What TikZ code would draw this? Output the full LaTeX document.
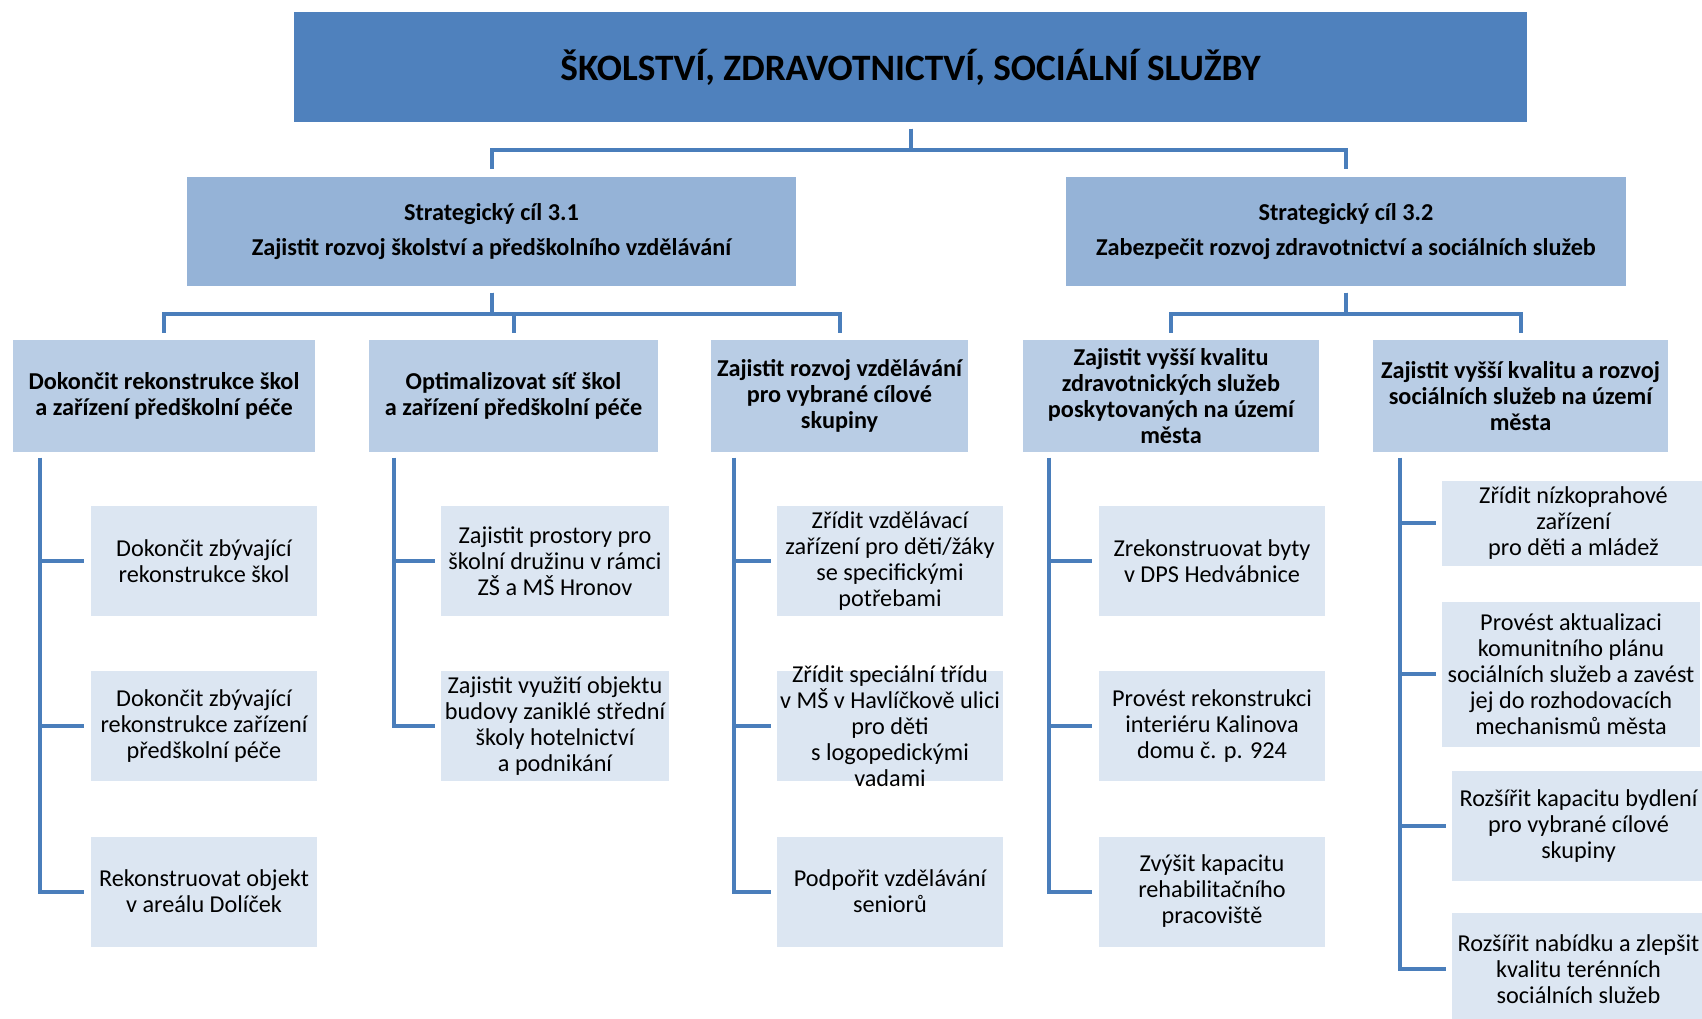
\documentclass[tikz,border=0pt]{standalone}
\usepackage{fontspec}
\setmainfont{Carlito}
\usetikzlibrary{calc}
\definecolor{titleblue}{HTML}{4F81BD}
\definecolor{goalblue}{HTML}{95B3D7}
\definecolor{aimblue}{HTML}{B9CDE5}
\definecolor{taskblue}{HTML}{DCE6F2}
\definecolor{lineblue}{HTML}{4A7EBB}
\tikzset{
  titlebox/.style= {fill=titleblue, inner sep=0, align=center,
    font=\bfseries\fontsize{10.6}{12}\selectfont},
  goal/.style= {fill=goalblue, inner sep=0, align=center, minimum height=10.9mm,
    font=\bfseries\fontsize{6.9}{10.2}\selectfont},
  aim/.style= {fill=aimblue, inner sep=0, align=center, minimum height=11.2mm,
    font=\bfseries\fontsize{6.9}{7.4}\selectfont},
  task/.style= {fill=taskblue, inner sep=0, align=center, minimum height=11mm,
    minimum width=22.6mm, font=\fontsize{6.9}{7.4}\selectfont},
  conn/.style= {draw=lineblue, line width=0.4mm},
}

\begin{document}
\begin{tikzpicture}[x=0.1mm, y=-0.1mm]
  \useasboundingbox (0,0) rectangle (1702,1019);
  % top and goals
  \node [titlebox, minimum width=123.3mm, minimum height=11mm] (top) at (910.5,67)
    {ŠKOLSTVÍ, ZDRAVOTNICTVÍ, SOCIÁLNÍ SLUŽBY};
  \node [goal, minimum width=60.9mm] (goal1) at (491.5,231.5)
    {Strategický cíl 3.1\\Zajistit rozvoj školství a předškolního vzdělávání};
  \node [goal, minimum width=56mm] (goal2) at (1346,231.5)
    {Strategický cíl 3.2\\Zabezpečit rozvoj zdravotnictví a sociálních služeb};

  % aims
  \node [aim, minimum width=30.2mm] (aimA) at (164,396)
    {Dokončit rekonstrukce škol\\a zařízení předškolní péče};
  \node [aim, minimum width=28.9mm] (aimB) at (513.5,396)
    {Optimalizovat síť škol\\a zařízení předškolní péče};
  \node [aim, minimum width=25.7mm] (aimC) at (839.5,396)
    {Zajistit rozvoj vzdělávání\\pro vybrané cílové\\skupiny};
  \node [aim, minimum width=29.6mm] (aimD) at (1171,396)
    {Zajistit vyšší kvalitu\\zdravotnických služeb\\poskytovaných na území\\města};
  \node [aim, minimum width=29.5mm] (aimE) at (1520.5,396)
    {Zajistit vyšší kvalitu a rozvoj\\sociálních služeb na území\\města};

  % tasks
  \node [task] (taskA1) at (204,561.5) {Dokončit zbývající\\rekonstrukce škol};
  \node [task] (taskA2) at (204,726.5) {Dokončit zbývající\\rekonstrukce zařízení\\předškolní péče};
  \node [task] (taskA3) at (204,891.5) {Rekonstruovat objekt\\v areálu Dolíček};
  \node [task, minimum width=22.8mm] (taskB1) at (555,561.5)
    {Zajistit prostory pro\\školní družinu v rámci\\ZŠ a MŠ Hronov};
  \node [task, minimum width=22.8mm] (taskB2) at (555,726.5)
    {Zajistit využití objektu\\budovy zaniklé střední\\školy hotelnictví\\a podnikání};
  \node [task] (taskC1) at (890,561.5)
    {Zřídit vzdělávací\\zařízení pro děti/žáky\\se specifickými\\potřebami};
  \node [task, inner ysep=-1mm] (taskC2) at (890,726.5)
    {Zřídit speciální třídu\\v MŠ v Havlíčkově ulici\\pro děti\\s logopedickými\\vadami};
  \node [task] (taskC3) at (890,891.5) {Podpořit vzdělávání\\seniorů};
  \node [task] (taskD1) at (1212,561.5) {Zrekonstruovat byty\\v DPS Hedvábnice};
  \node [task] (taskD2) at (1212,726.5) {Provést rekonstrukci\\interiéru Kalinova\\domu č. p. 924};
  \node [task] (taskD3) at (1212,891.5) {Zvýšit kapacitu\\rehabilitačního\\pracoviště};
  \node [task, minimum width=26.3mm, minimum height=8.5mm] (taskE1) at (1573.5,523.5)
    {Zřídit nízkoprahové\\zařízení\\pro děti a mládež};
  \node [task, minimum width=25.8mm, minimum height=14.5mm] (taskE2) at (1571,674.5)
    {Provést aktualizaci\\komunitního plánu\\sociálních služeb a zavést\\jej do rozhodovacích\\mechanismů města};
  \node [task, minimum width=25.3mm] (taskE3) at (1578.5,826)
    {Rozšířit kapacitu bydlení\\pro vybrané cílové\\skupiny};
  \node [task, minimum width=25.3mm, minimum height=11.2mm] (taskE4) at (1578.5,969)
    {Rozšířit nabídku a zlepšit\\kvalitu terénních\\sociálních služeb};

  % connectors between levels
  \draw [conn, shorten <=0.6mm, shorten >=0.7mm] (top.south) -- ++(0,27) -| (goal1.north);
  \draw [conn, shorten <=0.6mm, shorten >=0.7mm] (top.south) -- ++(0,27) -| (goal2.north);
  \draw [conn, shorten <=0.6mm, shorten >=0.6mm] (goal1.south) -- ++(0,27) -| (aimA.north);
  \draw [conn, shorten <=0.6mm, shorten >=0.6mm] (goal1.south) -- ++(0,27) -| (aimB.north);
  \draw [conn, shorten <=0.6mm, shorten >=0.6mm] (goal1.south) -- ++(0,27) -| (aimC.north);
  \draw [conn, shorten <=0.6mm, shorten >=0.6mm] (goal2.south) -- ++(0,27) -| (aimD.north);
  \draw [conn, shorten <=0.6mm, shorten >=0.6mm] (goal2.south) -- ++(0,27) -| (aimE.north);

  % trunks to tasks
  \coordinate (trunkA) at ($(aimA.south west)+(28,5)$);
  \coordinate (trunkB) at ($(aimB.south west)+(26,5)$);
  \coordinate (trunkC) at ($(aimC.south west)+(24,5)$);
  \coordinate (trunkD) at ($(aimD.south west)+(27,5)$);
  \coordinate (trunkE) at ($(aimE.south west)+(28,5)$);

  \draw [conn, shorten >=0.6mm] (trunkA) |- (taskA3.west);
  \draw [conn, shorten >=0.6mm] (trunkA |- taskA1.west) -- (taskA1.west);
  \draw [conn, shorten >=0.6mm] (trunkA |- taskA2.west) -- (taskA2.west);
  \draw [conn, shorten >=0.5mm] (trunkB) |- (taskB2.west);
  \draw [conn, shorten >=0.5mm] (trunkB |- taskB1.west) -- (taskB1.west);
  \draw [conn, shorten >=0.5mm] (trunkC) |- (taskC3.west);
  \draw [conn, shorten >=0.5mm] (trunkC |- taskC1.west) -- (taskC1.west);
  \draw [conn, shorten >=0.5mm] (trunkC |- taskC2.west) -- (taskC2.west);
  \draw [conn, shorten >=0.6mm] (trunkD) |- (taskD3.west);
  \draw [conn, shorten >=0.6mm] (trunkD |- taskD1.west) -- (taskD1.west);
  \draw [conn, shorten >=0.6mm] (trunkD |- taskD2.west) -- (taskD2.west);
  \draw [conn, shorten >=0.5mm] (trunkE) |- (taskE4.west);
  \draw [conn, shorten >=0.5mm] (trunkE |- taskE1.west) -- (taskE1.west);
  \draw [conn, shorten >=0.5mm] (trunkE |- taskE2.west) -- (taskE2.west);
  \draw [conn, shorten >=0.5mm] (trunkE |- taskE3.west) -- (taskE3.west);
\end{tikzpicture}
\end{document}
